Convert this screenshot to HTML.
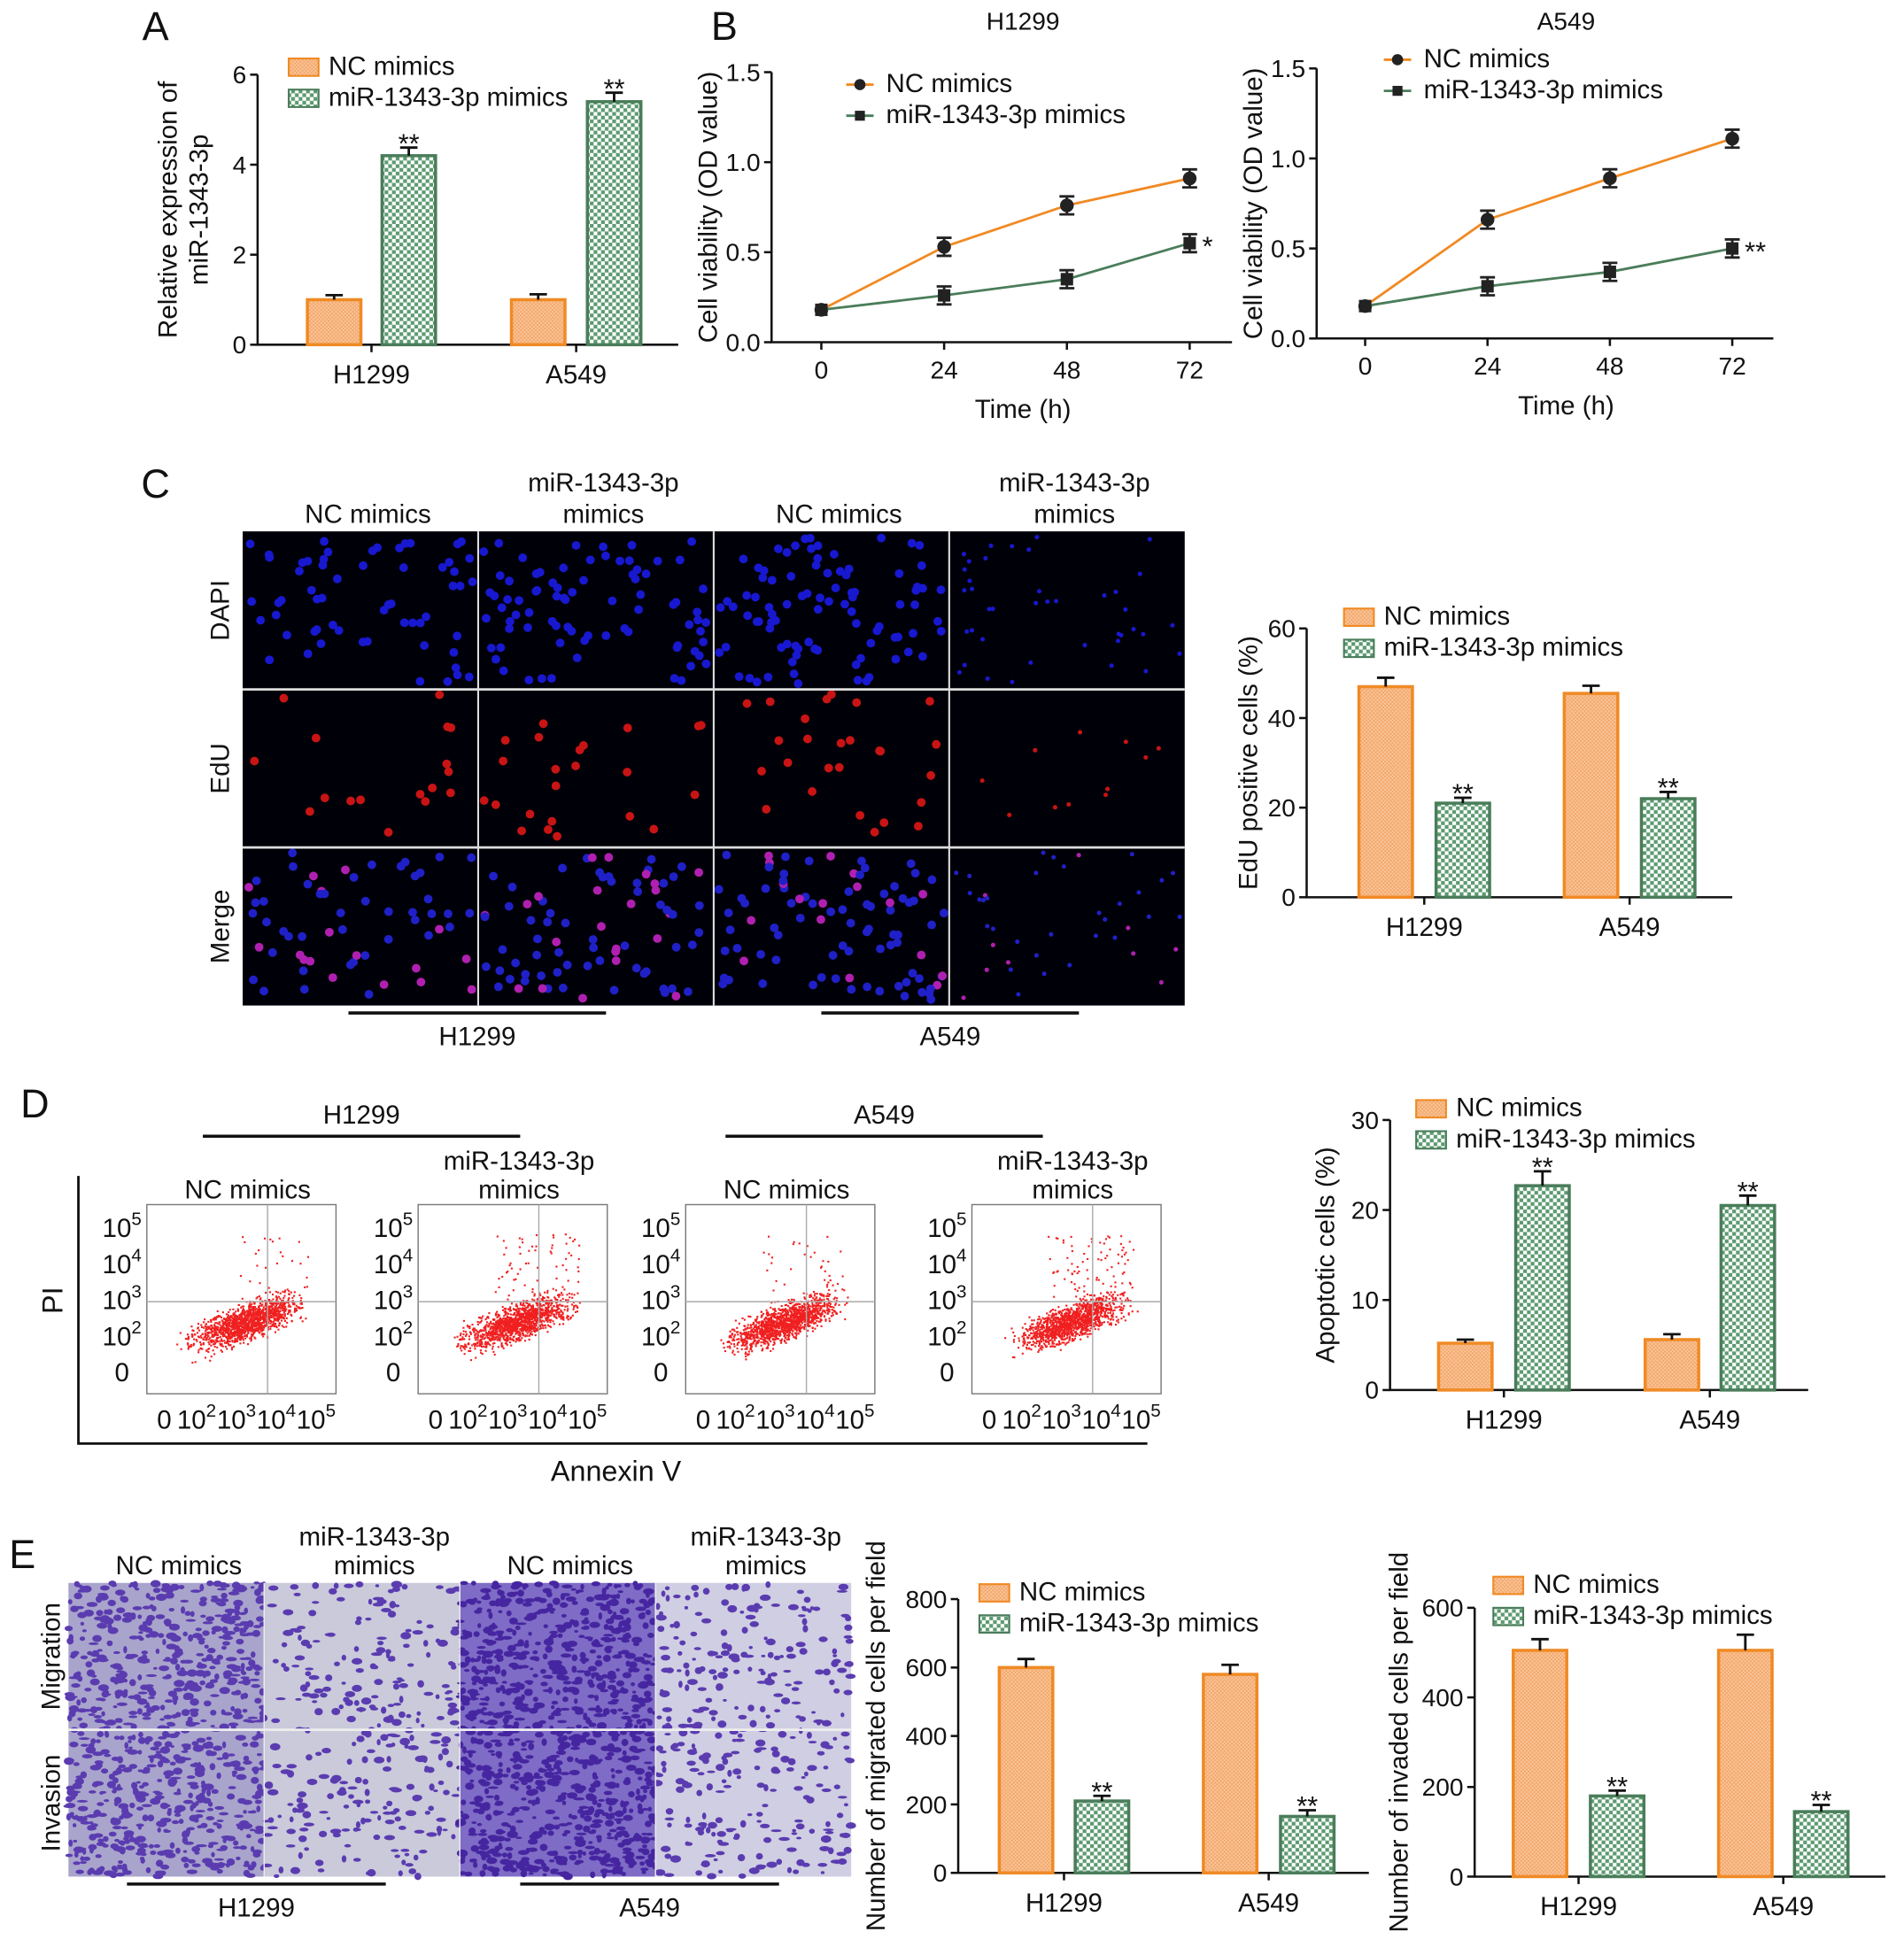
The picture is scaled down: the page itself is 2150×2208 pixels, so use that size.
<!DOCTYPE html>
<html><head><meta charset="utf-8"><style>
html,body{margin:0;padding:0;background:#fff}
svg{display:block;font-family:"Liberation Sans",Arial,sans-serif}
</style></head><body>
<svg id="fig" width="2150" height="2208" viewBox="0 0 1530 1571" preserveAspectRatio="none" xmlns="http://www.w3.org/2000/svg">
<defs>
<pattern id="po" width="3" height="3" patternUnits="userSpaceOnUse"><rect width="3" height="3" fill="#f9c9a0"/><path d="M0 0L3 3M3 0L0 3" stroke="#f3a262" stroke-width="0.6"/></pattern>
<pattern id="pg" width="6" height="6" patternUnits="userSpaceOnUse"><rect width="6" height="6" fill="#fff"/><rect width="3" height="3" fill="#5c9a70"/><rect x="3" y="3" width="3" height="3" fill="#5c9a70"/></pattern>
</defs>
<g id="root"></g>
</svg>
<script>
// ---------- data ----------
const groups = ["H1299", "A549"];
const seriesNames = ["NC mimics", "miR-1343-3p mimics"];
const aNC = [1.0, 1.0], aMiR = [4.2, 5.4], aErrNC = [0.1, 0.12], aErrMiR = [0.18, 0.2];
const aTicks = [0, 2, 4, 6];
const timeCats = [0, 24, 48, 72];
const bH1299NC = [0.18, 0.53, 0.76, 0.91], bH1299MiR = [0.18, 0.26, 0.35, 0.55];
const bA549NC = [0.18, 0.66, 0.89, 1.11], bA549MiR = [0.18, 0.29, 0.37, 0.50];
const bTicks = [0.0, 0.5, 1.0, 1.5];
const cNC = [47, 45.5], cMiR = [21, 22], cErrNC = [2, 1.7], cErrMiR = [1.2, 1.5];
const cTicks = [0, 20, 40, 60];
const dNC = [5.2, 5.6], dMiR = [22.7, 20.5], dErrNC = [0.4, 0.6], dErrMiR = [1.6, 1.1];
const dTicks = [0, 10, 20, 30];
const eMigNC = [600, 580], eMigMiR = [210, 165], eMigErrNC = [25, 28], eMigErrMiR = [15, 18];
const eMigTicks = [0, 200, 400, 600, 800];
const eInvNC = [505, 505], eInvMiR = [180, 145], eInvErrNC = [25, 35], eInvErrMiR = [12, 15];
const eInvTicks = [0, 200, 400, 600];

const NS = "http://www.w3.org/2000/svg";
const root = document.getElementById("root");
function mk(tag, attrs, parent) {
  const e = document.createElementNS(NS, tag);
  for (const k in attrs) e.setAttribute(k, attrs[k]);
  (parent || root).appendChild(e);
  return e;
}
function txt(x, y, s, size, parent, anchor, extra) {
  const t = mk("text", Object.assign({x: x, y: y, "font-size": size, "text-anchor": anchor || "middle", fill: "#111"}, extra || {}), parent);
  t.textContent = s;
  return t;
}
function sup(x, y, base, exp, size, parent, name) {
  const t = mk("text", {x: x, y: y, "font-size": size, "text-anchor": "middle", fill: "#111"}, parent);
  
  
  const a = mk("tspan", {}, t); a.textContent = base;
  if (exp) { const b = mk("tspan", {dy: -size * 0.45, "font-size": size * 0.7}, t); b.textContent = exp; }
  return t;
}

// ---------- bar chart ----------
function barChart(cfg) {
  const g = mk("g", {});
  
  
  const ymax = cfg.ticks[cfg.ticks.length - 1];
  const Y = v => cfg.y0 - (v / ymax) * (cfg.y0 - cfg.yTop);
  const ax = mk("path", {d: `M${cfg.x0} ${cfg.yTop} V${cfg.y0} H${cfg.xEnd}`, stroke: "#111", "stroke-width": 1.8, fill: "none"}, g);
  
  
  cfg.ticks.forEach(t => {
    mk("line", {x1: cfg.x0 - 6, x2: cfg.x0, y1: Y(t), y2: Y(t), stroke: "#111", "stroke-width": 1.8}, g);
    const l = txt(cfg.x0 - 9, Y(t) + 7, String(t), 20, g, "end");
    
    
  });
  const series = [[cfg.nc, cfg.errNC, "url(#po)", "#f08a24"], [cfg.miR, cfg.errMiR, "url(#pg)", "#4a7d5a"]];
  groups.forEach((gName, i) => {
    series.forEach((s, j) => {
      const x = cfg.barX[i * 2 + j];
      const v = s[0][i], e = s[1][i];
      const r = mk("rect", {x: x, y: Y(v), width: cfg.bw, height: cfg.y0 - Y(v), fill: s[2], stroke: s[3], "stroke-width": 2.5}, g);
      
      
      const cx = x + cfg.bw / 2;
      mk("path", {d: `M${cx} ${Y(v)} V${Y(v + e)} M${cx - 7} ${Y(v + e)} H${cx + 7}`, stroke: "#111", "stroke-width": 2}, g);
      if (j === 1) {
        const st = txt(cx, Y(v + e) + 4, "**", 22, g);
        
        
      }
    });
    const gcx = (cfg.barX[i * 2] + cfg.barX[i * 2 + 1] + cfg.bw) / 2;
    mk("line", {x1: gcx, x2: gcx, y1: cfg.y0, y2: cfg.y0 + 6, stroke: "#111", "stroke-width": 1.8}, g);
    const gl = txt(gcx, cfg.y0 + 31, gName, 21, g);
    
    
  });
  const yt = txt(0, 0, "", 21, g, "middle", {transform: `translate(${cfg.titleX},${(cfg.y0 + cfg.yTop) / 2 + (cfg.titleDy || 0)}) rotate(-90)`});
  
  
  cfg.title.forEach((line, k) => { const ts = mk("tspan", {x: 0, dy: k ? 25 : 0}, yt); ts.textContent = line; });
  [["url(#po)", "#f08a24"], ["url(#pg)", "#4a7d5a"]].forEach((p, k) => {
    const ly = cfg.legY + k * 25;
    const sw = mk("rect", {x: cfg.legX, y: ly - 13, width: 24, height: 14, fill: p[0], stroke: p[1], "stroke-width": 1.5}, g);
    
    
    const lt = txt(cfg.legX + 32, ly, seriesNames[k], 21, g, "start");
    
    
  });
}

barChart({name: "chart-a-relative-expression", x0: 207, xEnd: 545, y0: 277, yTop: 60, ticks: aTicks, nc: aNC, miR: aMiR, errNC: aErrNC, errMiR: aErrMiR, barX: [247, 307, 411, 472], bw: 43, title: ["Relative expression of", "miR-1343-3p"], titleX: 142, legX: 232, legY: 60});
barChart({name: "chart-c-edu", x0: 1050, xEnd: 1392, y0: 721, yTop: 505, ticks: cTicks, nc: cNC, miR: cMiR, errNC: cErrNC, errMiR: cErrMiR, barX: [1092, 1154, 1257, 1319], bw: 43, title: ["EdU positive cells (%)"], titleX: 1010, legX: 1080, legY: 502});
barChart({name: "chart-d-apoptosis", x0: 1117, xEnd: 1453, y0: 1117, yTop: 900, ticks: dTicks, nc: dNC, miR: dMiR, errNC: dErrNC, errMiR: dErrMiR, barX: [1156, 1218, 1322, 1383], bw: 43, title: ["Apoptotic cells (%)"], titleX: 1072, legX: 1138, legY: 897});
barChart({name: "chart-e-migration", x0: 770, xEnd: 1100, y0: 1505, yTop: 1285, ticks: eMigTicks, nc: eMigNC, miR: eMigMiR, errNC: eMigErrNC, errMiR: eMigErrMiR, barX: [803, 864, 967, 1029], bw: 43, title: ["Number of migrated cells per field"], titleX: 711, legX: 787, legY: 1286});
barChart({name: "chart-e-invasion", x0: 1185, xEnd: 1515, y0: 1508, yTop: 1292, ticks: eInvTicks, nc: eInvNC, miR: eInvMiR, errNC: eInvErrNC, errMiR: eInvErrMiR, barX: [1216, 1278, 1381, 1442], bw: 43, title: ["Number of invaded cells per field"], titleX: 1131, legX: 1200, legY: 1280});

// ---------- line chart ----------
function lineChart(cfg) {
  const g = mk("g", {});
  
  
  const X = t => cfg.xa + (t / 72) * (cfg.xb - cfg.xa);
  const Y = v => cfg.y0 - (v / 1.5) * (cfg.y0 - cfg.yTop);
  const ax = mk("path", {d: `M${cfg.x0} ${cfg.yTop} V${cfg.y0} H${cfg.xEnd}`, stroke: "#111", "stroke-width": 1.8, fill: "none"}, g);
  
  
  bTicks.forEach(t => {
    mk("line", {x1: cfg.x0 - 6, x2: cfg.x0, y1: Y(t), y2: Y(t), stroke: "#111", "stroke-width": 1.8}, g);
    const l = txt(cfg.x0 - 9, Y(t) + 7, t.toFixed(1), 20, g, "end");
    
    
  });
  timeCats.forEach(t => {
    mk("line", {x1: X(t), x2: X(t), y1: cfg.y0, y2: cfg.y0 + 6, stroke: "#111", "stroke-width": 1.8}, g);
    const l = txt(X(t), cfg.y0 + 29, String(t), 20, g);
    
    
  });
  const xt = txt((cfg.xa + cfg.xb) / 2 + 14, cfg.y0 + 61, "Time (h)", 21, g);
  
  
  const yt = txt(0, 0, "Cell viability (OD value)", 21, g, "middle", {transform: `translate(${cfg.x0 - 44},${(cfg.y0 + cfg.yTop) / 2}) rotate(-90)`});
  
  
  const tt = txt((cfg.xa + cfg.xb) / 2 + 14, 24, cfg.title, 20, g);
  
  
  [[cfg.nc, "#f08a24", "circle"], [cfg.miR, "#4a7d5a", "square"]].forEach((s, k) => {
    const pl = mk("polyline", {points: s[0].map((v, i) => X(timeCats[i]) + "," + Y(v)).join(" "), fill: "none", stroke: s[1], "stroke-width": 2}, g);
    
    
    s[0].forEach((v, i) => {
      const x = X(timeCats[i]), y = Y(v);
      if (i > 0) mk("path", {d: `M${x} ${Y(v - 0.05)} V${Y(v + 0.05)} M${x - 6} ${Y(v - 0.05)} H${x + 6} M${x - 6} ${Y(v + 0.05)} H${x + 6}`, stroke: "#222", "stroke-width": 2}, g);
      const m = s[2] === "circle" ? mk("circle", {cx: x, cy: y, r: 5.5, fill: "#222"}, g) : mk("rect", {x: x - 5, y: y - 5, width: 10, height: 10, fill: "#222"}, g);
      
      
    });
    const ly = cfg.legY + k * 25;
    mk("line", {x1: cfg.legX, x2: cfg.legX + 22, y1: ly - 6, y2: ly - 6, stroke: s[1], "stroke-width": 2}, g);
    if (k) mk("rect", {x: cfg.legX + 7, y: ly - 10, width: 8, height: 8, fill: "#222"}, g); else mk("circle", {cx: cfg.legX + 11, cy: ly - 6, r: 4.5, fill: "#222"}, g);
    const lt = txt(cfg.legX + 32, ly, seriesNames[k], 21, g, "start");
    
    
  });
  const last = cfg.miR[cfg.miR.length - 1];
  const st = txt(X(72) + 10, Y(last) + 10, cfg.star, 22, g, "start");
  
  
}
lineChart({name: "chart-b-h1299", title: "H1299", x0: 620, xEnd: 990, y0: 275, yTop: 58, xa: 660, xb: 956, nc: bH1299NC, miR: bH1299MiR, legX: 680, legY: 74, star: "*"});
lineChart({name: "chart-b-a549", title: "A549", x0: 1058, xEnd: 1425, y0: 272, yTop: 55, xa: 1097, xb: 1392, nc: bA549NC, miR: bA549MiR, legX: 1112, legY: 54, star: "**"});

// ---------- panel letters ----------
[["A", 125, 32], ["B", 582, 32], ["C", 125, 400], ["D", 28, 898], ["E", 18, 1260]].forEach(p => {
  const l = txt(p[1], p[2], p[0], 32, root);
  
  
});

// ---------- decorative image rendering (seeded, non-data) ----------
let seed = 12345;
function rnd() { seed = (seed * 16807) % 2147483647; return seed / 2147483647; }

// Panel C micrographs
const cImg = mk("g", {});


mk("rect", {x: 195, y: 427, width: 757, height: 381, fill: "#000008"}, cImg);
const colW = 757 / 4, rowH = 381 / 3;
const dens = [60, 80, 90, 40];
for (let c = 0; c < 4; c++) for (let r = 0; r < 3; r++) {
  const x0 = 195 + c * colW, y0 = 427 + r * rowH;
  const n = r === 1 ? Math.round(dens[c] / 3.5) : dens[c];
  for (let i = 0; i < n; i++) {
    const col = r === 0 ? "#1818d0" : r === 1 ? "#c81414" : (rnd() < 0.25 ? "#b020b0" : "#2020c8");
    mk("circle", {cx: x0 + 4 + rnd() * (colW - 8), cy: y0 + 4 + rnd() * (rowH - 8), r: c === 3 ? 1.8 : 3.5, fill: col}, cImg);
  }
}
for (let c = 1; c < 4; c++) mk("line", {x1: 195 + c * colW, x2: 195 + c * colW, y1: 427, y2: 808, stroke: "#ddd", "stroke-width": 1.5}, cImg);
for (let r = 1; r < 3; r++) mk("line", {x1: 195, x2: 952, y1: 427 + r * rowH, y2: 427 + r * rowH, stroke: "#ddd", "stroke-width": 2}, cImg);
[["NC mimics"], ["miR-1343-3p", "mimics"], ["NC mimics"], ["miR-1343-3p", "mimics"]].forEach((lab, c) => {
  const cx = 195 + colW * (c + 0.5);
  lab.forEach((s, k) => {
    const t = txt(cx + 6, 420 - (lab.length - 1 - k) * 25, s, 21, cImg);
    
    
  });
});
["DAPI", "EdU", "Merge"].forEach((s, r) => {
  const t = txt(0, 0, s, 21, cImg, "middle", {transform: `translate(184,${427 + rowH * (r + 0.5)}) rotate(-90)`});
  
  
});
[[280, 487, "H1299"], [660, 867, "A549"]].forEach(p => {
  mk("line", {x1: p[0], x2: p[1], y1: 814, y2: 814, stroke: "#111", "stroke-width": 2.5}, cImg);
  const t = txt((p[0] + p[1]) / 2, 840, p[2], 21, cImg);
  
  
});

// Panel D flow cytometry
const dG = mk("g", {});


mk("path", {d: "M63 945 V1160 H922", stroke: "#111", "stroke-width": 2, fill: "none"}, dG);
const pi = txt(0, 0, "PI", 23, dG, "middle", {transform: "translate(50,1045) rotate(-90)"});


const an = txt(495, 1190, "Annexin V", 23, dG);


[[163, 418, "H1299"], [583, 838, "A549"]].forEach(p => {
  mk("line", {x1: p[0], x2: p[1], y1: 913, y2: 913, stroke: "#111", "stroke-width": 2.5}, dG);
  const t = txt((p[0] + p[1]) / 2, 903, p[2], 21, dG);
  
  
});
const boxes = [118, 336, 551, 781], spread = [0.3, 0.8, 0.4, 1.0];
const heads = [["NC mimics"], ["miR-1343-3p", "mimics"], ["NC mimics"], ["miR-1343-3p", "mimics"]];
boxes.forEach((bx, i) => {
  const by = 968, w = 152, h = 152;
  mk("rect", {x: bx, y: by, width: w, height: h, fill: "#fff", stroke: "#777", "stroke-width": 1}, dG);
  for (let k = 0; k < 1400; k++) {
    const u = (rnd() + rnd() + rnd()) / 3 - 0.5, v = (rnd() + rnd() + rnd()) / 3 - 0.5;
    let x = bx + w * 0.52 + u * w * 0.75 + v * 15, y = by + h * 0.62 - u * 45 + v * 35;
    if (rnd() < 0.08 * spread[i]) { x = bx + w * (0.4 + rnd() * 0.45); y = by + h * (0.15 + rnd() * 0.45); }
    if (x > bx + 2 && x < bx + w - 2 && y > by + 2 && y < by + h - 2) mk("rect", {x: x, y: y, width: 1.5, height: 1.5, fill: "#f02020"}, dG);
  }
  mk("line", {x1: bx, x2: bx + w, y1: by + 78, y2: by + 78, stroke: "#aaa", "stroke-width": 1}, dG);
  mk("line", {x1: bx + 97, x2: bx + 97, y1: by, y2: by + h, stroke: "#aaa", "stroke-width": 1}, dG);
  ["10|5", "10|4", "10|3", "10|2", "0|"].forEach((s, k) => {
    const p = s.split("|");
    sup(bx - 20, by + 26 + k * 29, p[0], p[1], 21, dG, 'y-tick-label');
  });
  ["0|", "10|2", "10|3", "10|4", "10|5"].forEach((s, k) => {
    const p = s.split("|");
    sup(bx + 14 + k * 32 - (k ? 6 : 0), by + h + 28, p[0], p[1], 21, dG, 'x-tick-label');
  });
  heads[i].forEach((s, k) => {
    const t = txt(bx + w / 2 + 5, 963 - (heads[i].length - 1 - k) * 23, s, 21, dG);
    
    
  });
});

// Panel E transwell images
const eG = mk("g", {});


const eW = 629 / 4, eH = 236 / 2;
const bgc = ["#a9a4cc", "#cacadb", "#7f6cc6", "#d0cee2"], nBlobs = [420, 150, 500, 170];
for (let c = 0; c < 4; c++) for (let r = 0; r < 2; r++) {
  const x0 = 55 + c * eW, y0 = 1272 + r * eH;
  mk("rect", {x: x0, y: y0, width: eW, height: eH, fill: bgc[c]}, eG);
  for (let k = 0; k < nBlobs[c]; k++) {
    mk("ellipse", {cx: x0 + rnd() * eW, cy: y0 + rnd() * eH, rx: 1.5 + rnd() * 3, ry: 1 + rnd() * 2, fill: c === 2 ? "#4626a0" : "#5a3cb0"}, eG);
  }
}
for (let c = 1; c < 4; c++) mk("line", {x1: 55 + c * eW, x2: 55 + c * eW, y1: 1272, y2: 1508, stroke: "#eee", "stroke-width": 1}, eG);
mk("line", {x1: 55, x2: 684, y1: 1272 + eH, y2: 1272 + eH, stroke: "#eee", "stroke-width": 2}, eG);
heads.forEach((lab, c) => {
  lab.forEach((s, k) => {
    const t = txt(55 + eW * (c + 0.5) + 10, 1265 - (lab.length - 1 - k) * 23, s, 21, eG);
    
    
  });
});
["Migration", "Invasion"].forEach((s, r) => {
  const t = txt(0, 0, s, 21, eG, "middle", {transform: `translate(48,${1272 + eH * (r + 0.5)}) rotate(-90)`});
  
  
});
[[102, 310, "H1299"], [418, 626, "A549"]].forEach(p => {
  mk("line", {x1: p[0], x2: p[1], y1: 1514, y2: 1514, stroke: "#111", "stroke-width": 2.5}, eG);
  const t = txt((p[0] + p[1]) / 2, 1540, p[2], 21, eG);
  
  
});
</script>
</body></html>
